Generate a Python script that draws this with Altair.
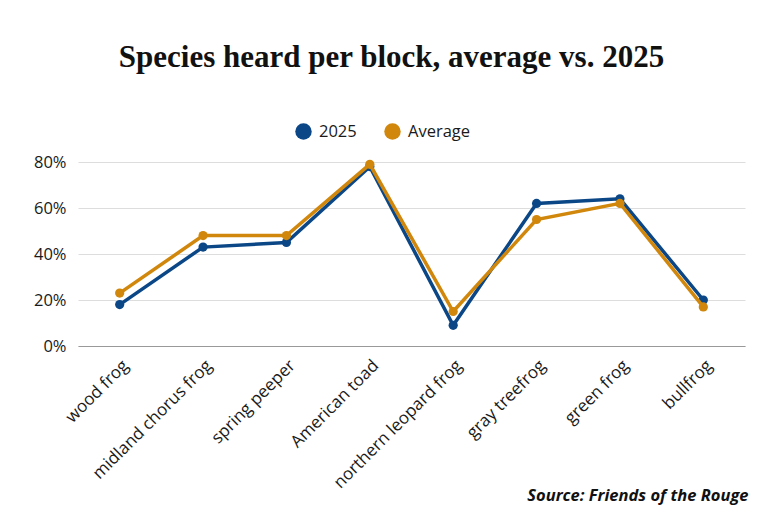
import altair as alt
import pandas as pd

species = ["wood frog", "midland chorus frog", "spring peeper", "American toad",
           "northern leopard frog", "gray treefrog", "green frog", "bullfrog"]
values_2025 = [0.18, 0.43, 0.45, 0.78, 0.09, 0.62, 0.64, 0.20]
values_avg = [0.23, 0.48, 0.48, 0.79, 0.15, 0.55, 0.62, 0.17]
series_names = ["2025", "Average"]
colors = ["#0b4787", "#d0870c"]

rows = []
for i, s in enumerate(species):
    rows.append({"species": s, "series": series_names[0], "value": values_2025[i], "order": i})
    rows.append({"species": s, "series": series_names[1], "value": values_avg[i], "order": i})
df = pd.DataFrame(rows)

font = "Open Sans"
fs = 16.5

x = alt.X("species:N", sort=species,
          axis=alt.Axis(title="Source: Friends of the Rouge", labelAngle=-45,
                        labelFont=font, labelFontSize=17, labelColor="#1a1a1a",
                        labelAlign="right", labelBaseline="top",
                        ticks=False, domainColor="#999", domainWidth=1,
                        labelPadding=11, labelOffset=0,
                        titleFont=font, titleFontSize=fs, titleFontWeight="bold",
                        titleFontStyle="italic", titleColor="#111",
                        titleX=670, titleY=154, titleAlign="right",
                        titleBaseline="alphabetic"))
y = alt.Y("value:Q", scale=alt.Scale(domain=[0, 0.8]),
          axis=alt.Axis(title=None, format=".0%", values=[0, 0.2, 0.4, 0.6, 0.8],
                        labelFont=font, labelFontSize=fs, labelColor="#1a1a1a",
                        ticks=False, domain=False, gridColor="#dddddd",
                        labelPadding=12))
color = alt.Color("series:N",
                  scale=alt.Scale(domain=series_names, range=colors),
                  legend=alt.Legend(title=None, orient="none", direction="horizontal",
                                    legendX=217, legendY=-39,
                                    symbolType="circle", symbolSize=270,
                                    symbolStrokeWidth=0, symbolOpacity=1,
                                    labelFont=font, labelFontSize=fs, labelColor="#1a1a1a",
                                    columnPadding=27, labelOffset=7))

base = alt.Chart(df).encode(x=x, y=y, color=color, order="order:Q")

layers = []
for s in series_names:
    sub = base.transform_filter(alt.datum.series == s)
    layers.append(sub.mark_line(strokeWidth=3.5))
    layers.append(sub.mark_circle(size=85, opacity=1))

chart = alt.layer(*layers).properties(
    width=667, height=184,
    autosize=alt.AutoSizeParams(type="none"),
    padding={"left": 70, "top": 154, "right": 27, "bottom": 166},
    title=alt.TitleParams("Species heard per block, average vs. 2025",
                          font="Liberation Serif", fontSize=31, fontWeight="bold",
                          color="#111", anchor="middle", dx=-20, offset=49),
).configure_view(stroke=None)

chart.save("out.html", embed_options={"renderer": "svg", "actions": False})
